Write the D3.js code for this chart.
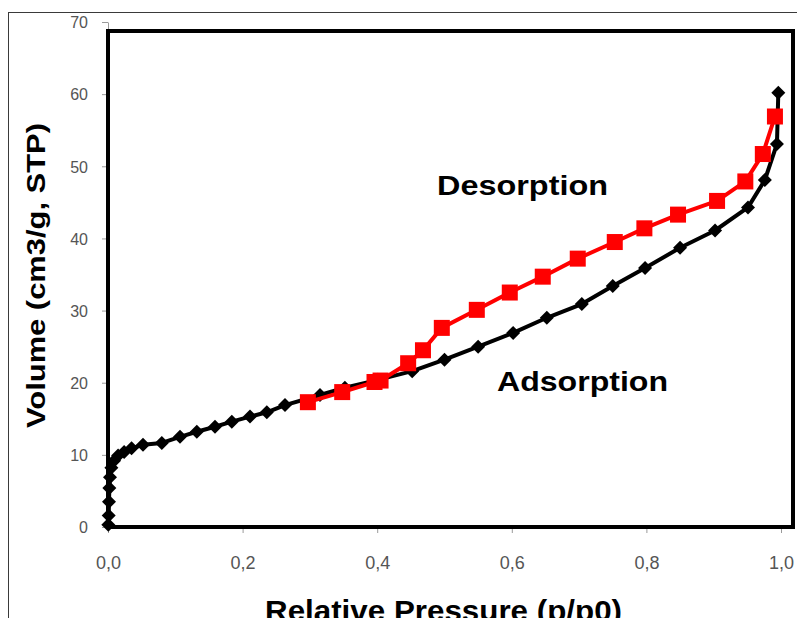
<!DOCTYPE html>
<html><head><meta charset="utf-8">
<script src="https://cdn.jsdelivr.net/npm/d3@7"></script>
<style>body{margin:0;background:#fff}svg{display:block}</style>
</head><body>
<script>
// Adsorption branch (black diamonds)
const adsP = [0.0005,0.001,0.0015,0.002,0.003,0.005,0.009,0.015,0.024,0.035,0.052,0.080,0.107,0.132,0.159,0.184,0.211,0.236,0.263,0.315,0.352,0.401,0.452,0.500,0.550,0.602,0.652,0.704,0.750,0.798,0.850,0.902,0.951,0.976,0.994,0.996];
const adsV = [0.3,1.6,3.5,5.4,6.9,8.2,9.2,9.9,10.4,10.9,11.4,11.65,12.5,13.2,13.9,14.6,15.3,15.9,16.9,18.3,19.3,20.4,21.6,23.2,25.0,26.9,29.0,30.9,33.4,35.9,38.7,41.1,44.3,48.1,53.1,60.2];
// Desorption branch (red squares)
const desP = [0.991,0.973,0.947,0.905,0.847,0.797,0.753,0.698,0.646,0.597,0.548,0.496,0.468,0.446,0.405,0.396,0.348,0.297];
const desV = [56.9,51.7,47.9,45.2,43.3,41.4,39.5,37.2,34.7,32.5,30.1,27.6,24.5,22.7,20.3,20.1,18.7,17.3];
const xTicks = [0,0.2,0.4,0.6,0.8,1.0];
const xTickLabels = ["0,0","0,2","0,4","0,6","0,8","1,0"];
const yTicks = [0,10,20,30,40,50,60,70];
const xTitle = "Relative Pressure (p/p0)";
const yTitle = "Volume (cm3/g, STP)";
const seriesLabels = ["Desorption","Adsorption"];

const W = 797, H = 618;
const svg = d3.select("body").append("svg").attr("width",W).attr("height",H);

const x = d3.scaleLinear().domain([0,1]).range([108,781]);
const y = d3.scaleLinear().domain([0,70]).range([527,22]);

// outer chart frame
svg.append("rect").attr("x",8.5).attr("y",12.5).attr("width",W+10).attr("height",H+10)
  .attr("fill","none").attr("stroke","#3a3a3a").attr("stroke-width",1);

// axes (gray ticks)
const gx = svg.append("g").attr("transform",`translate(0,${y(0)})`)
  .call(d3.axisBottom(x).tickValues(xTicks).tickSize(6).tickSizeOuter(0).tickFormat((d,i)=>xTickLabels[i]));
const gy = svg.append("g").attr("transform",`translate(${x(0)},0)`)
  .call(d3.axisLeft(y).tickValues(yTicks).tickSize(6).tickSizeOuter(0));
[gx,gy].forEach(g=>{
  g.selectAll("path.domain").attr("stroke","#9a9a9a").attr("stroke-width",1);
  g.selectAll(".tick line").attr("stroke","#9a9a9a");
  g.selectAll("text").attr("fill","#555").attr("font-family","Liberation Sans, Arial, sans-serif");
});
gx.selectAll("text").attr("font-size",18).attr("dy",null).attr("y",42);
gy.selectAll("text").attr("font-size",16).attr("x",-20).attr("dy","0.36em");

// plot frame
const plotTop = 31, plotRight = 793;
svg.append("rect").attr("x",x(0)).attr("y",plotTop)
  .attr("width",plotRight-x(0)).attr("height",y(0)-plotTop)
  .attr("fill","none").attr("stroke","#000").attr("stroke-width",4);

const ads = adsP.map((p,i)=>[p,adsV[i]]);
const des = desP.map((p,i)=>[p,desV[i]]);
const line = d3.line().x(d=>x(d[0])).y(d=>y(d[1]));

svg.append("path").datum(ads).attr("d",line).attr("fill","none").attr("stroke","#000").attr("stroke-width",4).attr("stroke-linejoin","round");
svg.append("g").selectAll("path").data(ads).join("path")
  .attr("transform",d=>`translate(${x(d[0])},${y(d[1])})`)
  .attr("d","M0,-7L7,0L0,7L-7,0Z").attr("fill","#000");

svg.append("path").datum(des).attr("d",line).attr("fill","none").attr("stroke","#ff0000").attr("stroke-width",4).attr("stroke-linejoin","round");
svg.append("g").selectAll("rect").data(des).join("rect")
  .attr("x",d=>x(d[0])-8).attr("y",d=>y(d[1])-8).attr("width",16).attr("height",16).attr("fill","#ff0000");

// series labels
const lab = svg.append("g").attr("font-family","Liberation Sans, Arial, sans-serif").attr("font-weight","bold").attr("fill","#000");
lab.append("text").attr("x",437).attr("y",195).attr("font-size",28).attr("textLength",171).attr("lengthAdjust","spacingAndGlyphs").text(seriesLabels[0]);
lab.append("text").attr("x",497).attr("y",391).attr("font-size",28).attr("textLength",171).attr("lengthAdjust","spacingAndGlyphs").text(seriesLabels[1]);

// axis titles
svg.append("text").attr("x",265).attr("y",621).attr("font-family","Liberation Sans, Arial, sans-serif")
  .attr("font-weight","bold").attr("font-size",30).attr("textLength",357).attr("lengthAdjust","spacingAndGlyphs").text(xTitle);
svg.append("text").attr("transform","translate(45,428) rotate(-90)").attr("font-family","Liberation Sans, Arial, sans-serif")
  .attr("font-weight","bold").attr("font-size",26).attr("textLength",305).attr("lengthAdjust","spacingAndGlyphs").text(yTitle);
</script>
</body></html>
